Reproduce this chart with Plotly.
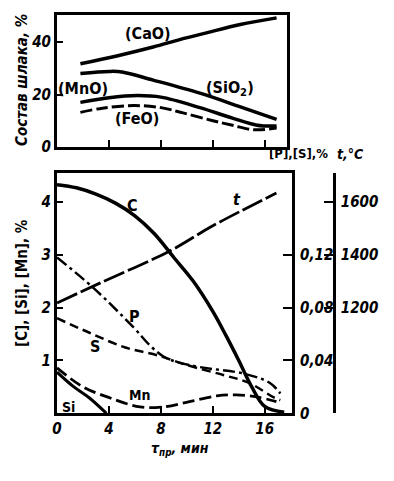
import plotly.graph_objects as go

# ---------------- data: top panel (slag composition, %) ----------------
cao_x = [1.8, 4.6, 7.4, 9.5, 11.5, 14.1, 16.9]
cao_y = [31.7, 34.7, 38.1, 41.0, 43.5, 46.7, 49.2]
sio2_x = [1.8, 4.0, 5.0, 7.4, 11.0, 14.0, 16.9]
sio2_y = [28.0, 28.8, 28.6, 25.5, 20.5, 15.5, 10.5]
mno_x = [1.8, 4.0, 6.2, 8.0, 11.0, 13.5, 15.4, 16.9]
mno_y = [17.0, 18.8, 19.6, 19.0, 15.0, 11.0, 8.3, 8.0]
feo_x = [1.8, 3.5, 5.9, 8.0, 9.7, 12.0, 13.5, 15.1, 16.9]
feo_y = [13.2, 14.8, 15.8, 15.0, 13.0, 10.0, 8.3, 6.6, 7.2]

# ---------------- data: bottom panel ----------------
c_x = [0, 1.5, 3.0, 4.5, 6.0, 7.5, 9.0, 10.5, 12.0, 13.0, 14.0, 15.0, 16.0, 17.5]
c_y = [4.33, 4.27, 4.15, 3.98, 3.74, 3.40, 2.95, 2.50, 1.93, 1.48, 1.00, 0.50, 0.13, 0.02]
si_x = [0, 1.3, 2.5, 3.8]
si_y = [0.78, 0.50, 0.29, 0.0]
mn_x = [0, 2.0, 4.1, 6.4, 8.2, 10.2, 12.3, 13.8, 15.4, 16.9]
mn_y = [0.86, 0.50, 0.29, 0.12, 0.12, 0.22, 0.33, 0.35, 0.31, 0.22]
p_x = [0, 2.8, 5.9, 7.2, 8.2, 9.2, 11.0, 14.4, 16.4, 17.2]
p_y = [0.118, 0.095, 0.065, 0.051, 0.043, 0.039, 0.035, 0.030, 0.023, 0.015]
s_x = [0, 2.5, 5.2, 7.7, 10.2, 12.8, 14.8, 16.7, 17.2]
s_y = [0.072, 0.061, 0.050, 0.044, 0.036, 0.029, 0.023, 0.012, 0.010]
t_x = [0, 3.3, 8.7, 12.0, 16.9]
t_y = [1218, 1293, 1415, 1510, 1634]

x_ticks = [0, 4, 8, 12, 16]
left_ticks = [1, 2, 3, 4]
ps_ticks = [0, 0.04, 0.08, 0.12]
ps_labels = ["0", "0,04", "0,08", "0,12"]
t_ticks = [1200, 1400, 1600]
top_ticks = [0, 20, 40]

FONT = "DejaVu Sans Condensed, DejaVu Sans, sans-serif"
# the page body has an 8px default margin, so the figure is drawn 8px in from the window corner
OFF = 8
W, H = 394 - OFF, 481 - OFF

def px(v):
    return (v - OFF) / W

def py(v):
    return 1 - (v - OFF) / H

fig = go.Figure()

def line(x, y, xa, ya, width=3, dash="solid"):
    fig.add_trace(go.Scatter(x=x, y=y, xaxis=xa, yaxis=ya, mode="lines",
                             line=dict(color="black", width=width, dash=dash, shape="spline", smoothing=1.0),
                             hoverinfo="skip", showlegend=False))

# top panel
line(cao_x, cao_y, "x2", "y4", 3.5)
line(sio2_x, sio2_y, "x2", "y4", 3.5)
line(mno_x, mno_y, "x2", "y4", 3.5)
line(feo_x, feo_y, "x2", "y4", 3, "12px,4px")

# bottom panel
line(c_x, c_y, "x", "y", 3.5)
line(si_x, si_y, "x", "y", 3)
line(mn_x, mn_y, "x", "y", 2.8, "12px,5px")
line(p_x, p_y, "x", "y2", 2.5, "12px,4px,3px,4px")
line(s_x, s_y, "x", "y2", 2.5, "9px,5px")
line(t_x, t_y, "x", "y3", 2.8, "22px,4px")

tickfont = dict(family=FONT, size=15, color="black", style="italic", weight="bold")

bot_dom_x = [px(57), px(292)]
bot_dom_y = [py(413.3), py(173)]
top_dom_x = [px(57), px(287)]
top_dom_y = [py(147), py(15)]

R = 4.55
common = dict(showgrid=False, zeroline=False, automargin=False, tickcolor="black", tickwidth=2)
fig.update_layout(
    width=W, height=H, margin=dict(l=0, r=0, t=0, b=0),
    paper_bgcolor="white", plot_bgcolor="white",
    xaxis=dict(domain=bot_dom_x, range=[0, 18.1], anchor="y",
               showline=True, linecolor="black", linewidth=3, mirror=True,
               tickmode="array", tickvals=x_ticks, ticktext=[str(v) for v in x_ticks],
               ticks="inside", ticklen=7, tickfont=tickfont, **common),
    yaxis=dict(domain=bot_dom_y, range=[0, R], anchor="x",
               showline=True, linecolor="black", linewidth=3, mirror=True,
               tickmode="array", tickvals=left_ticks, ticktext=[str(v) for v in left_ticks],
               ticks="inside", ticklen=6, tickfont=tickfont, **common),
    yaxis2=dict(overlaying="y", side="right", anchor="x", range=[0, 0.04 * R],
                showline=True, linecolor="black", linewidth=3,
                tickmode="array", tickvals=ps_ticks, ticktext=ps_labels,
                ticks="inside", ticklen=9, ticklabelstandoff=2, tickfont=tickfont, **common),
    yaxis3=dict(overlaying="y", side="right", anchor="free", position=px(334),
                range=[800, 800 + 200 * R],
                showline=True, linecolor="black", linewidth=2.5,
                tickmode="array", tickvals=t_ticks, ticktext=[str(v) for v in t_ticks],
                ticks="inside", ticklen=9, ticklabelstandoff=2, tickfont=tickfont, **common),
    xaxis2=dict(domain=top_dom_x, range=[0, 17.7], anchor="y4",
                showline=True, linecolor="black", linewidth=3, mirror=True,
                tickmode="array", tickvals=[4, 8, 12, 16], showticklabels=False,
                ticks="inside", ticklen=7, **common),
    yaxis4=dict(domain=top_dom_y, range=[0, 50.3], anchor="x2",
                showline=True, linecolor="black", linewidth=3, mirror=True,
                tickmode="array", tickvals=top_ticks, ticktext=[str(v) for v in top_ticks],
                ticks="inside", ticklen=6, tickfont=tickfont, **common),
)

lab = dict(family=FONT, size=16, color="black", weight="bold")

def note(text, x, y, xref, yref, size=16, italic=False, angle=0, xanchor="center", bold=True):
    f = dict(lab)
    f["size"] = size
    if not bold:
        f["weight"] = "normal"
    if italic:
        f["style"] = "italic"
    fig.add_annotation(text=text, x=x, y=y, xref=xref, yref=yref, showarrow=False,
                       font=f, textangle=angle, xanchor=xanchor, yanchor="middle")

# top panel labels
note("(CaO)", 7.0, 43.2, "x2", "y4")
note("(SiO<sub>2</sub>)", 13.3, 22.3, "x2", "y4")
note("(MnO)", 2.0, 22.3, "x2", "y4")
note("(FeO)", 6.15, 11.0, "x2", "y4")

# bottom panel labels
note("C", 5.8, 3.94, "x", "y")
note("t", 13.85, 4.04, "x", "y", italic=True)
note("P", 6.0, 1.83, "x", "y")
note("S", 2.9, 1.26, "x", "y")
note("Mn", 6.4, 0.35, "x", "y", size=14)
note("Si", 0.9, 0.12, "x", "y", size=14)

# axis titles
note("Состав шлака, %", px(22), py(80), "paper", "paper", size=15, italic=True, angle=-90)
note("[C], [Si], [Mn], %", px(22), py(283), "paper", "paper", size=15, angle=-90)
note("τ<sub>пр</sub>, мин", px(180), py(449), "paper", "paper", size=14, italic=True)
note("[P],[S],%", px(298), py(154), "paper", "paper", size=13)
note("t,°C", px(350), py(154), "paper", "paper", size=14, italic=True)

fig.write_html("out.html")
